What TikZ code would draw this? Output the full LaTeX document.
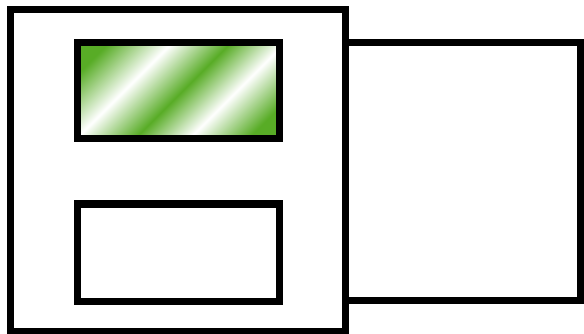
\documentclass[tikz,border=0pt]{standalone}
\usetikzlibrary{positioning}
\definecolor{lcdgreen}{RGB}{88,172,38}
\pgfdeclarehorizontalshading{lcdshine}{100bp}{color(0bp)=(lcdgreen); color(22bp)=(lcdgreen); color(37bp)=(white); color(51bp)=(lcdgreen); color(64bp)=(white); color(78bp)=(lcdgreen); color(100bp)=(lcdgreen)}
\begin{document}
\begin{tikzpicture}[x=1pt,y=-1pt]
	\tikzset{box_edge/.style={draw, line width=7pt, inner sep=0pt, outer sep=0pt}}
	\useasboundingbox (0,0) rectangle (584,334);
	\node[box_edge, minimum width=334.5pt, minimum height=321pt] (body) at (177.75,170.5) {};
	\node[box_edge, minimum width=235.5pt, minimum height=257pt] (tail) at (462.75,171.5) {};
	\node[box_edge, shade, shading=lcdshine, shading angle=-45, minimum width=202pt, minimum height=96pt] (screen) at (178,91) {};
	\node[box_edge, minimum width=202pt, minimum height=97pt] (slot) at (178,252.5) {};
\end{tikzpicture}
\end{document}
